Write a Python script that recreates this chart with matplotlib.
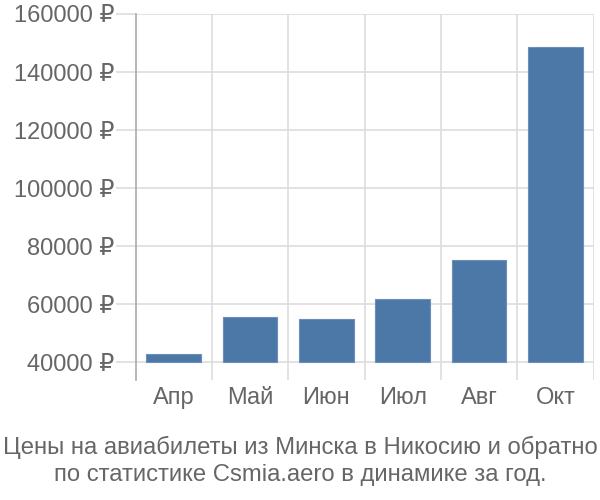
import matplotlib
matplotlib.use("Agg")
import matplotlib.pyplot as plt
from matplotlib.ticker import FuncFormatter, FixedLocator

categories = ["Апр", "Май", "Июн", "Июл", "Авг", "Окт"]
prices = [42760, 55400, 54800, 61600, 75200, 148700]
yticks = [40000, 60000, 80000, 100000, 120000, 140000, 160000]
title = "Цены на авиабилеты из Минска в Никосию и обратно\nпо статистике Csmia.aero в динамике за год."

plt.rcParams['font.family'] = ['Liberation Sans', 'DejaVu Sans']
fig = plt.figure(figsize=(6, 5), dpi=100)
ax = fig.add_axes([135.5/600, 1-380/500, (593.5-135.5)/600, (380-14)/500])

base = 40000
x = list(range(len(categories)))
ax.bar(x, [p - base for p in prices], bottom=base, width=0.72,
       color='#4c78a8', edgecolor='#6b8fba', linewidth=0.8, zorder=3)

ax.set_xlim(-0.5, len(categories) - 0.5)
ax.set_ylim(33800, 160000)

ax.yaxis.set_major_locator(FixedLocator(yticks))
ax.yaxis.set_major_formatter(FuncFormatter(lambda v, p: f"{int(v)} ₽"))
ax.set_xticks(x)
ax.set_xticklabels(categories)
ax.xaxis.set_minor_locator(FixedLocator([i + 0.5 for i in x]))

ax.grid(axis='y', which='major', color='#dddddd', linewidth=1.2, zorder=0)
ax.grid(axis='x', which='minor', color='#dddddd', linewidth=1.2, zorder=0)
ax.grid(axis='x', which='major', visible=False)

for s in ['top', 'right', 'bottom']:
    ax.spines[s].set_visible(False)
ax.spines['left'].set_color('#aaaaaa')
ax.spines['left'].set_linewidth(1.2)

ax.tick_params(axis='y', length=14.4, width=1.2, color='#dddddd', pad=1,
               labelsize=17, labelcolor='#666666')
ax.tick_params(axis='x', which='major', length=0, pad=5, labelsize=17, labelcolor='#666666')
ax.tick_params(axis='x', which='minor', length=0)

fig.text(0.5, 1-460.5/500, title, ha='center', va='center', fontsize=17.2,
         color='#666666', linespacing=1.3)

fig.savefig("out.png", dpi=100)
